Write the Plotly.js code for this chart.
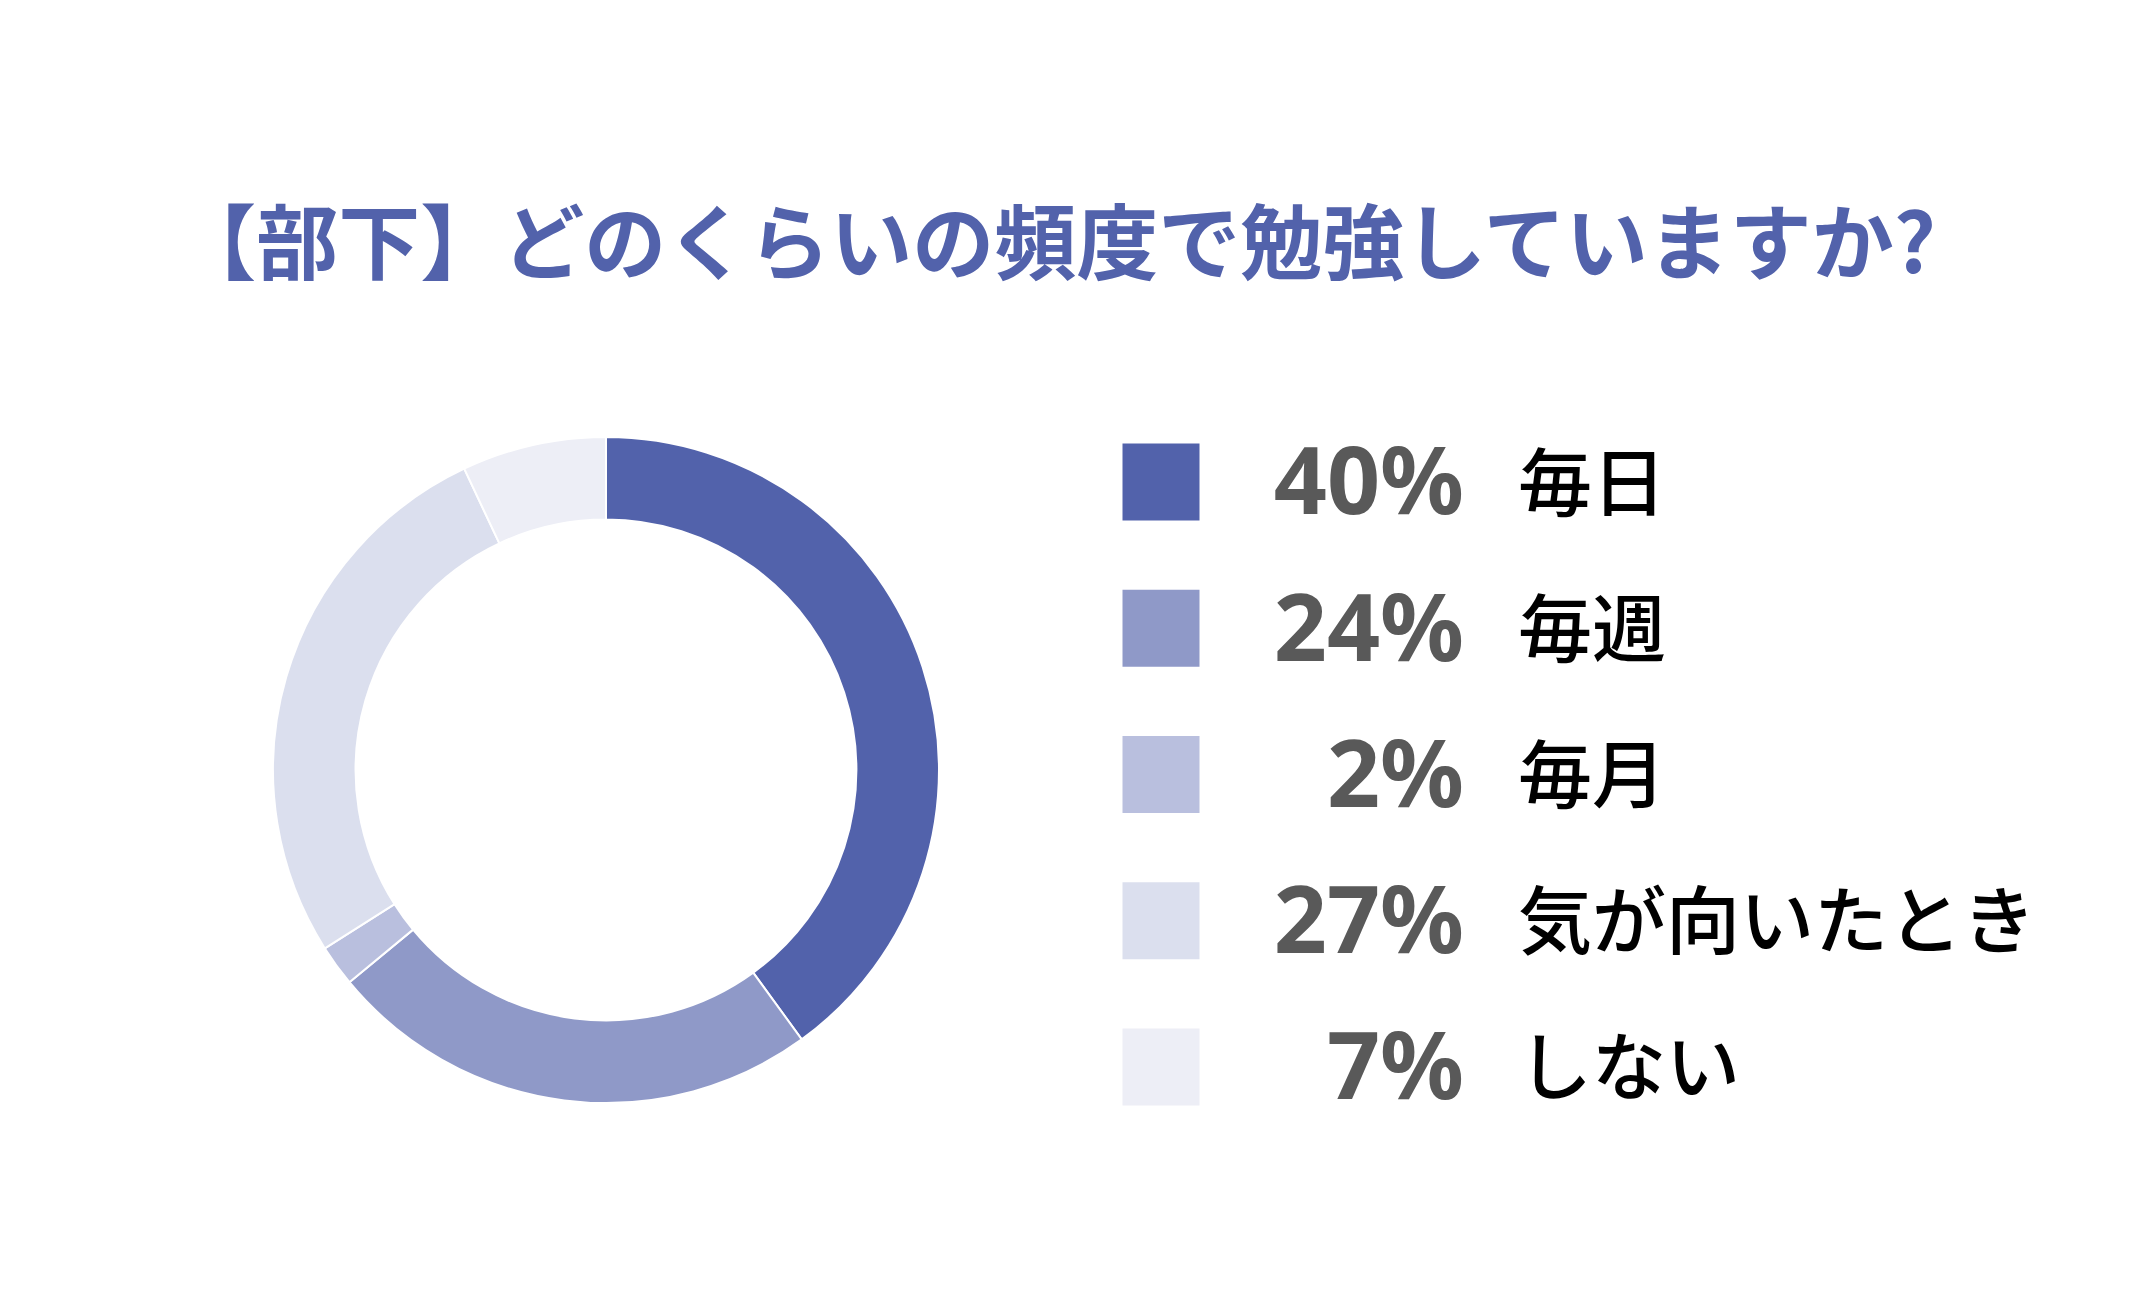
<!DOCTYPE html>
<html>
<head>
<meta charset="utf-8">
<script src="https://cdn.plot.ly/plotly-3.0.1.min.js"></script>
<style>
  html, body { margin: 0; padding: 0; background: #fff; }
  #chart { width: 2150px; height: 1309px; }
</style>
</head>
<body>
<div id="chart"></div>
<script>
const categories = ['毎日', '毎週', '毎月', '気が向いたとき', 'しない'];
const shares = [40, 24, 2, 27, 7];
const shareLabels = ['40%', '24%', '2%', '27%', '7%'];
const colors = ['#5262ab', '#8f99c8', '#b9bfde', '#dbdfee', '#edeef6'];

const TITLE = '【部下】どのくらいの頻度で勉強していますか?';
const W = 2150, H = 1309;

// legend columns, in pixels from the left edge of the legend axis
const SWATCH_X = 86;
const PCT_X = 389;
const LABEL_X = 443;
const TEXT_DROP = 9; // text sits a little lower than the swatch centre

const donut = {
  type: 'pie',
  values: shares,
  labels: categories,
  sort: false,
  direction: 'clockwise',
  rotation: 0,
  hole: 0.752,
  textinfo: 'none',
  hoverinfo: 'label+percent',
  marker: { colors: colors, line: { color: '#ffffff', width: 2 } },
  domain: { x: [273 / W, 939 / W], y: [(539 - 333) / H, (539 + 333) / H] },
  showlegend: false
};

const swatches = {
  type: 'scatter',
  mode: 'markers',
  x: categories.map(() => SWATCH_X),
  y: categories,
  marker: { symbol: 'square', size: 77, color: colors, line: { width: 0 } },
  hoverinfo: 'skip',
  showlegend: false
};

const pctText = {
  type: 'scatter',
  mode: 'text',
  x: categories.map(() => PCT_X),
  y: categories,
  yaxis: 'y2',
  text: shareLabels,
  textposition: 'middle left',
  textfont: { family: 'Noto Sans, Open Sans, sans-serif', size: 93, color: '#595959', weight: 700 },
  hoverinfo: 'skip',
  showlegend: false
};

const labelText = {
  type: 'scatter',
  mode: 'text',
  x: categories.map(() => LABEL_X),
  y: categories,
  yaxis: 'y2',
  text: categories,
  textposition: 'middle right',
  textfont: { family: 'Noto Sans CJK JP, sans-serif', size: 74, color: '#000000', weight: 500 },
  hoverinfo: 'skip',
  showlegend: false
};

const layout = {
  width: W,
  height: H,
  margin: { l: 0, r: 0, t: 0, b: 0 },
  paper_bgcolor: '#ffffff',
  plot_bgcolor: 'rgba(0,0,0,0)',
  title: {
    text: TITLE,
    x: 1055 / W,
    xanchor: 'center',
    y: 1 - 244 / H,
    yanchor: 'middle',
    font: { family: 'Noto Sans CJK JP, sans-serif', size: 82, color: '#5262ab', weight: 700 }
  },
  xaxis: {
    domain: [1075 / W, 1],
    range: [0, 1075],
    visible: false,
    fixedrange: true
  },
  yaxis: {
    type: 'category',
    domain: [168.9 / H, 900.1 / H],
    range: [4.5, -0.5],
    visible: false,
    fixedrange: true
  },
  yaxis2: {
    type: 'category',
    anchor: 'x',
    domain: [(168.9 - TEXT_DROP) / H, (900.1 - TEXT_DROP) / H],
    range: [4.5, -0.5],
    visible: false,
    fixedrange: true
  }
};

Plotly.newPlot('chart', [donut, swatches, pctText, labelText], layout, { displayModeBar: false, staticPlot: true });
</script>
</body>
</html>
